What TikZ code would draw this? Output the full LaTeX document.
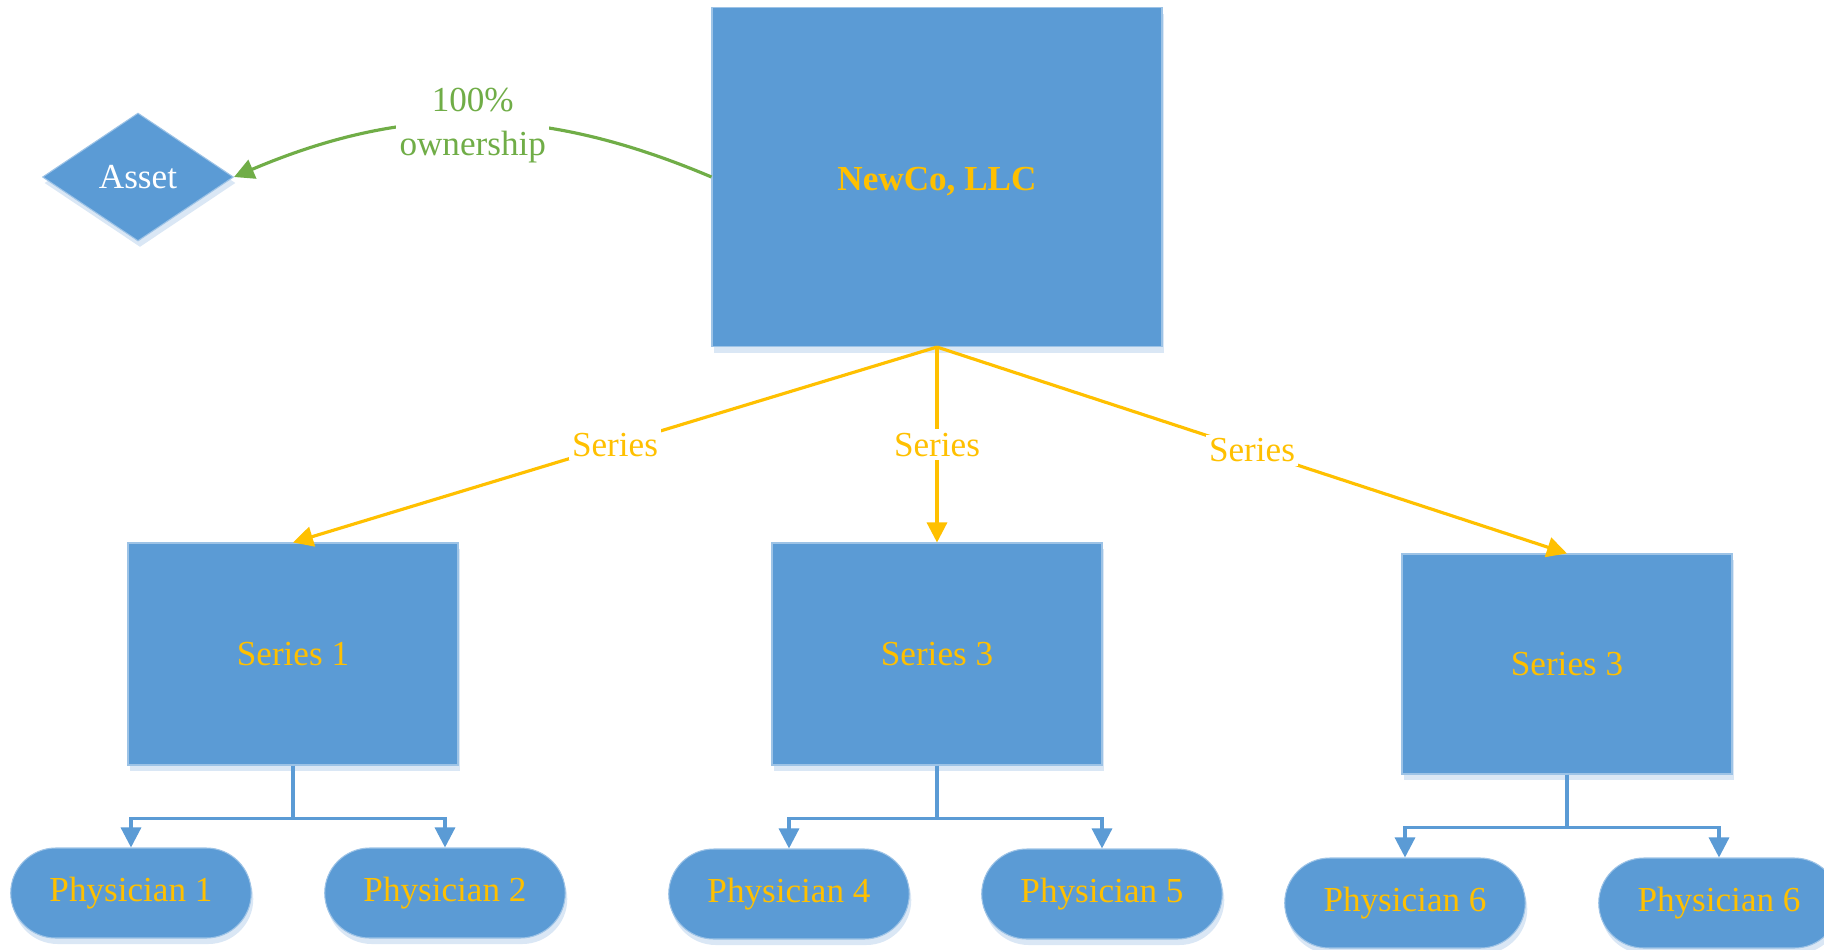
\documentclass[tikz,border=0pt]{standalone}
\usepackage{fontspec}
\setmainfont{Liberation Serif}
\usetikzlibrary{arrows.meta,shapes.geometric,shapes.misc,shadows}
\definecolor{boxblue}{HTML}{5B9BD5}
\definecolor{shadeblue}{HTML}{DAE7F5}
\definecolor{seriesgold}{HTML}{FFC000}
\definecolor{ownergreen}{HTML}{70AD47}
\begin{document}
\begin{tikzpicture}[
    font=\fontsize{10}{12}\selectfont,
    boxshadow/.style={drop shadow={shadow xshift=0.02cm,shadow yshift=-0.06cm,fill=shadeblue,opacity=1}},
    entity/.style={rectangle,fill=boxblue,draw=boxblue!60!white,line width=0.3pt,text=seriesgold,boxshadow},
    series/.style={entity,minimum width=3.3cm,minimum height=2.22cm},
    physician/.style={rounded rectangle,fill=boxblue,draw=boxblue!60!white,line width=0.3pt,text=seriesgold,
      minimum width=2.64cm,minimum height=0.9cm,boxshadow},
    tag/.style={fill=white,inner sep=1pt}
  ]
  \useasboundingbox (0,0) rectangle (18.24,-9.49);
  \node[entity,minimum width=4.5cm,minimum height=3.39cm,font=\fontsize{10}{12}\selectfont\bfseries,
    text height=0.33cm] (newco) at (9.37,-1.77) {NewCo, LLC};
  \node[diamond,fill=boxblue,draw=boxblue!60!white,line width=0.3pt,text=white,inner sep=0pt,
    minimum width=1.91cm,minimum height=1.28cm,boxshadow] (asset) at (1.38,-1.77) {Asset};
  \node[series] (s1) at (2.93,-6.54) {Series 1};
  \node[series] (s2) at (9.37,-6.54) {Series 3};
  \node[series,minimum height=2.2cm] (s3) at (15.67,-6.64) {Series 3};
  \node[physician] (p1) at (1.31,-8.93) {Physician 1};
  \node[physician] (p2) at (4.45,-8.93) {Physician 2};
  \node[physician] (p4) at (7.89,-8.94) {Physician 4};
  \node[physician] (p5) at (11.02,-8.94) {Physician 5};
  \node[physician] (p6) at (14.05,-9.03) {Physician 6};
  \node[physician] (p6b) at (17.19,-9.03) {Physician 6};
  \draw[ownergreen,line width=0.9pt,-{Triangle[length=0.2cm,width=0.2cm]}]
    (newco.west) to[bend right=23] node[tag,align=center,font=\fontsize{10}{12.6}\selectfont,yshift=-0.03cm] {100\%\\ownership} (asset.east);
  \begin{scope}[seriesgold,line width=0.9pt,-{Triangle[length=0.2cm,width=0.2cm]}]
    \draw (newco.south) -- node[tag] {Series} (s1.north);
    \draw (newco.south) -- node[tag] {Series} (s2.north);
    \draw (newco.south) -- node[tag] {Series} (s3.north);
  \end{scope}
  \begin{scope}[boxblue,line width=0.9pt,-{Triangle[length=0.2cm,width=0.2cm]}]
    \draw (s1.south) -- ++(0,-0.53) -| (p1.north);
    \draw (s1.south) -- ++(0,-0.53) -| (p2.north);
    \draw (s2.south) -- ++(0,-0.53) -| (p4.north);
    \draw (s2.south) -- ++(0,-0.53) -| (p5.north);
    \draw (s3.south) -- ++(0,-0.53) -| (p6.north);
    \draw (s3.south) -- ++(0,-0.53) -| (p6b.north);
  \end{scope}
\end{tikzpicture}
\end{document}
